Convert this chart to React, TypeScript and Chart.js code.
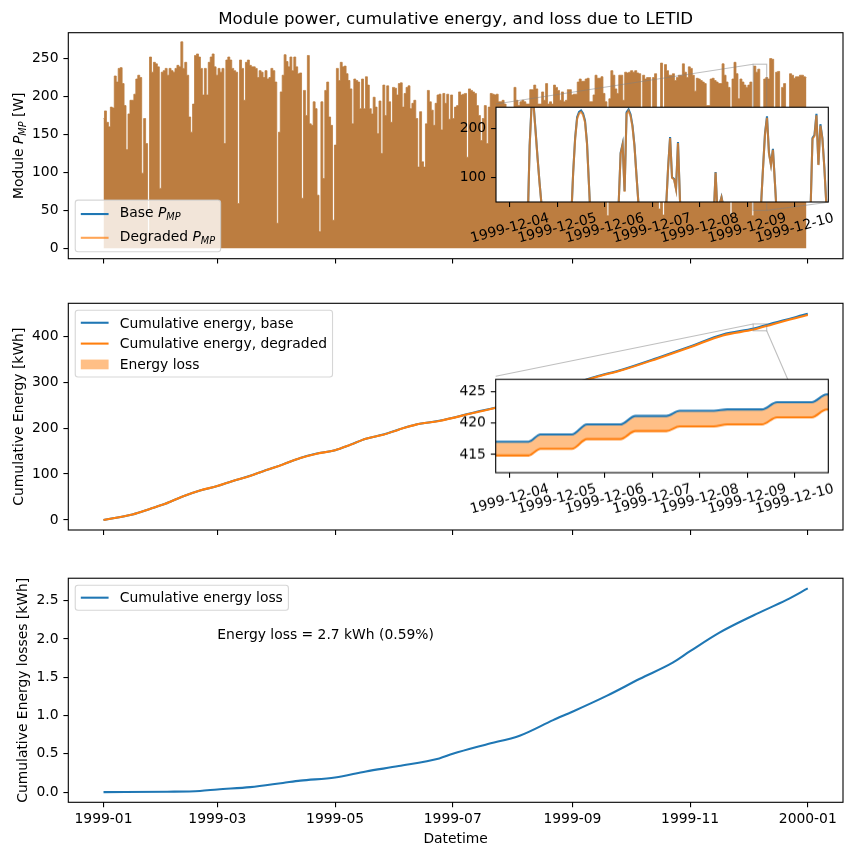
import React, { useEffect, useRef } from 'react';
import { Chart, registerables } from 'chart.js';

Chart.register(...registerables);

// ---------------- data ----------------
// x values are days since 1999-01-01 00:00
const monthTickDays = [0, 59, 120, 181, 243, 304, 365];
const monthTickLabels = ['1999-01', '1999-03', '1999-05', '1999-07', '1999-09', '1999-11', '2000-01'];
const decTickDays = [337, 338, 339, 340, 341, 342, 343];
const decTickLabels = ['1999-12-04', '1999-12-05', '1999-12-06', '1999-12-07', '1999-12-08', '1999-12-09', '1999-12-10'];
const powerTicks = [0, 50, 100, 150, 200, 250];
const energyTicks = [0, 100, 200, 300, 400];
const lossTicks = [0, 0.5, 1.0, 1.5, 2.0, 2.5];
const powerInsetTicks = [100, 200];
const energyInsetTicks = [415, 420, 425];

// daily peak module power [W], read block by block; each block covers the day span next to it
const peakPowerJanMar = [
  171, 181, 166, 160, 186, 185, 227, 219, 237, 238,
  217, 188, 130, 177, 195, 195, 203, 223, 228, 225,
  99, 171, 138, 20, 252, 232, 245, 243, 239, 79,
  232, 234, 237, 228, 237, 234, 232, 237, 241, 239,
  272, 237, 245, 228, 173, 153, 190, 254, 256, 252,
  237, 202, 237, 202, 245, 252, 256, 239, 228, 237,
  232, 237, 138, 248, 252, 248, 237, 234, 232, 59,
  248, 237, 195, 245, 248, 241, 239, 239, 237, 225,
  234, 232, 225, 234, 223, 225, 237, 234, 219, 33,
];
const spanJanMar = [0, 90.3];
const peakPowerAprJun = [
  153, 206, 228, 255, 246, 239, 252, 234, 252, 239,
  230, 231, 66, 208, 175, 254, 164, 162, 193, 184,
  70, 22, 193, 92, 208, 219, 173, 162, 37, 136,
  237, 221, 245, 239, 240, 230, 221, 210, 164, 223,
  221, 219, 184, 223, 184, 226, 215, 184, 177, 199,
  186, 151, 194, 125, 215, 175, 214, 193, 166, 212,
  211, 202, 217, 218, 186, 204, 212, 214, 184, 191,
  195, 171, 107, 180, 114, 107, 164, 208, 193, 182,
  162, 191, 202, 203, 156, 204, 191, 203, 170, 202,
  171, 186,
];
const spanAprJun = [91.1, 182.4];
const peakPowerJulSep = [
  186, 188, 206, 202, 203, 204, 120, 210, 208, 206,
  204, 188, 175, 142, 171, 188, 138, 186, 204, 203,
  202, 203, 193, 193, 195, 190, 185, 185, 185, 185,
  212, 195, 188, 193, 195, 193, 190, 190, 209, 209,
  215, 210, 190, 190, 206, 195, 217, 190, 193, 190,
  215, 212, 208, 195, 206, 193, 195, 209, 209, 202,
  203, 203, 219, 223, 220, 220, 223, 224, 193, 193,
  202, 228, 224, 224, 226, 204, 193, 43, 197, 234,
  228, 210, 204, 228, 228, 195, 232, 231, 232, 234,
];
const spanJulSep = [182.5, 273.7];
const peakPowerOctDec = [
  232, 234, 231, 230, 185, 228, 223, 225, 225, 185,
  225, 230, 185, 52, 244, 44, 242, 234, 228, 228,
  230, 221, 225, 228, 228, 243, 232, 225, 239, 237,
  228, 207, 224, 223, 221, 219, 217, 188, 188, 223,
  224, 221, 219, 217, 217, 243, 228, 219, 212, 44,
  223, 245, 230, 197, 223, 219, 215, 212, 215, 219,
  43, 240, 232, 236, 182, 111, 223, 225, 223, 250,
  249, 185, 232, 233, 185, 212, 217, 185, 185, 230,
  228, 224, 226, 226, 228, 228, 226, 225,
];
const spanOctDec = [274.8, 364.3];

// cumulative energy [kWh]
const energyDays = [0, 15, 24, 32, 41, 50, 59, 67, 76, 84, 93, 102, 110, 120, 128, 136, 145, 153, 162, 174, 191, 209, 255, 269, 287, 304, 321, 337, 347, 365];
const energyBase = [0, 12, 24, 35, 51, 64, 74, 85, 96, 108, 121, 135, 144, 152, 164, 177, 186, 197, 208, 216, 233, 251, 312, 328, 353, 378, 404, 417, 429, 449];
const energyDegraded = [0, 12.0, 24.0, 35.0, 51.0, 64.0, 74.0, 84.9, 95.9, 107.9, 120.9, 134.8, 143.8, 151.8, 163.8, 176.7, 185.7, 196.7, 207.6, 215.6, 232.4, 250.3, 310.8, 326.6, 351.4, 376.1, 401.9, 414.7, 426.6, 446.3];

// cumulative energy loss [kWh]
const lossDays = [0, 33, 50, 59, 76, 93, 102, 120, 136, 153, 174, 181, 198, 216, 233, 243, 261, 278, 295, 304, 319, 337, 354, 365];
const lossValues = [0, 0.005, 0.015, 0.035, 0.065, 0.12, 0.15, 0.19, 0.27, 0.34, 0.44, 0.5, 0.62, 0.74, 0.94, 1.05, 1.26, 1.48, 1.69, 1.84, 2.08, 2.31, 2.51, 2.66];

// hourly module power, 1999-12-03 .. 1999-12-10
const decDays = [336, 337, 338, 339, 340, 341, 342, 343];
const decFirstHour = [16, 8, 6, 6, 6, 7, 6, 7];
const decBasePower = [
  [25, 0],
  [0, 5, 165, 250, 248, 195, 140, 90, 45, 0],
  [0, 15, 110, 180, 222, 233, 236, 230, 215, 170, 85, 0],
  [0, 45, 150, 168, 72, 232, 238, 228, 205, 165, 105, 48, 0],
  [0, 40, 120, 182, 100, 97, 77, 172, 55, 0],
  [15, 111, 25, 45, 60, 40, 30, 20, 8, 0],
  [0, 45, 120, 190, 224, 150, 126, 158, 90, 20, 0],
  [0, 30, 180, 186, 229, 126, 208, 180, 120, 45, 0],
];
const decDegradedPower = [
  [25, 0],
  [0, 5, 163, 247, 245, 193, 139, 89, 45, 0],
  [0, 15, 109, 178, 219, 230, 233, 227, 212, 168, 84, 0],
  [0, 45, 148, 166, 71, 229, 235, 225, 202, 163, 104, 47, 0],
  [0, 40, 119, 180, 99, 96, 76, 170, 54, 0],
  [15, 110, 25, 44, 59, 40, 30, 20, 8, 0],
  [0, 44, 119, 188, 221, 148, 125, 156, 89, 20, 0],
  [0, 30, 178, 184, 226, 125, 205, 178, 119, 44, 0],
];

// cumulative energy in the same week [kWh]
const decEnergyTimes = [336.7, 337.4, 337.65, 338.31, 338.63, 339.33, 339.65, 340.3, 340.58, 341.3, 341.58, 342.31, 342.63, 343.36, 343.67, 343.72];
const decEnergyBase = [417.05, 417.05, 418.2, 418.2, 419.8, 419.8, 421.15, 421.15, 421.97, 421.97, 422.2, 422.2, 423.35, 423.35, 424.6, 424.6];
const decEnergyDegraded = [414.85, 414.85, 415.92, 415.92, 417.46, 417.46, 418.74, 418.74, 419.5, 419.5, 419.8, 419.8, 420.94, 420.94, 422.17, 422.17];

const zoomWindow = [336.708, 343.708];

// ---------------- layout & style ----------------
const W = 853;
const AX_LEFT = 68.3;
const AX_RIGHT = 843;
const X_MIN = -18.25;
const X_MAX = 383.25;
const P_TOP = { y: 0, h: 290, top: 32.7, bottom: 258.7 };
const P_MID = { y: 290, h: 275, top: 303.3, bottom: 530 };
const P_BOT = { y: 565, h: 290, top: 575, bottom: 802.3 };
const IN_POW = { left: 496, right: 828.3, top: 104, bottom: 202.3 };
const IN_EN = { left: 495.7, right: 828.3, top: 376.3, bottom: 473 };
const IN_CANVAS_LEFT = 430;

const FF = '"DejaVu Sans", "Liberation Sans", sans-serif';
const FS = 13.89;
const TICK_LEN = 4.9;
const BLUE = '#1f77b4';
const ORANGE = '#ff7f0e';
const ORANGE70 = 'rgba(255,127,14,0.7)';
const ORANGE50 = 'rgba(255,127,14,0.5)';
const BROWN = 'rgb(188,125,64)';
const LW = 2.08;

type Run = { t: string; it?: boolean; sub?: boolean };

function fnt(size: number, italic = false) {
  return `${italic ? 'italic ' : ''}${size}px ${FF}`;
}
function runsWidth(ctx: any, runs: Run[], size: number) {
  let w = 0;
  for (const r of runs) {
    ctx.font = fnt(r.sub ? size * 0.7 : size, !!r.it);
    w += ctx.measureText(r.t).width;
  }
  return w;
}
function drawRuns(ctx: any, runs: Run[], x: number, y: number, size: number, align: string) {
  const total = runsWidth(ctx, runs, size);
  let cx = align === 'center' ? x - total / 2 : x;
  ctx.textAlign = 'left';
  ctx.textBaseline = 'alphabetic';
  ctx.fillStyle = '#000';
  for (const r of runs) {
    const s = r.sub ? size * 0.7 : size;
    ctx.font = fnt(s, !!r.it);
    ctx.fillText(r.t, cx, y + (r.sub ? size * 0.22 : 0));
    cx += ctx.measureText(r.t).width;
  }
}
function roundRectPath(ctx: any, x: number, y: number, w: number, h: number, r: number) {
  ctx.beginPath();
  ctx.moveTo(x + r, y);
  ctx.lineTo(x + w - r, y);
  ctx.arcTo(x + w, y, x + w, y + r, r);
  ctx.lineTo(x + w, y + h - r);
  ctx.arcTo(x + w, y + h, x + w - r, y + h, r);
  ctx.lineTo(x + r, y + h);
  ctx.arcTo(x, y + h, x, y + h - r, r);
  ctx.lineTo(x, y + r);
  ctx.arcTo(x, y, x + r, y, r);
  ctx.closePath();
}
type LegendItem = { runs: Run[]; kind: 'line' | 'patch'; color: string; lift?: number };
function drawLegend(ctx: any, x: number, y: number, anchor: 'top' | 'bottom', items: LegendItem[], rowH: number) {
  const pad = 0.4 * FS, gap = 0.5 * FS, hl = 2 * FS, htp = 0.8 * FS;
  const tw = Math.max(...items.map((it) => runsWidth(ctx, it.runs, FS)));
  const w = pad + hl + htp + tw + pad;
  const h = 2 * pad + items.length * rowH + (items.length - 1) * gap;
  const top = anchor === 'top' ? y : y - h;
  roundRectPath(ctx, x, top, w, h, 0.2 * FS);
  ctx.fillStyle = 'rgba(255,255,255,0.8)';
  ctx.fill();
  ctx.strokeStyle = 'rgba(204,204,204,0.8)';
  ctx.lineWidth = 1.1;
  ctx.stroke();
  items.forEach((it, i) => {
    const cy = top + pad + i * (rowH + gap) + rowH / 2;
    const hx = x + pad;
    if (it.kind === 'line') {
      ctx.strokeStyle = it.color;
      ctx.lineWidth = LW;
      ctx.beginPath();
      ctx.moveTo(hx, cy);
      ctx.lineTo(hx + hl, cy);
      ctx.stroke();
    } else {
      ctx.fillStyle = it.color;
      ctx.fillRect(hx, cy - 0.35 * FS, hl, 0.7 * FS);
    }
    drawRuns(ctx, it.runs, hx + hl + htp, cy + 0.346 * FS - (it.lift || 0), FS, 'left');
  });
}
function frame(ctx: any, a: any) {
  ctx.strokeStyle = '#000';
  ctx.lineWidth = 1.1;
  ctx.strokeRect(a.left, a.top, a.right - a.left, a.bottom - a.top);
}
function gridOpts() {
  return { display: true, drawOnChartArea: false, drawTicks: true, tickLength: TICK_LEN, lineWidth: 1.1, tickWidth: 1.1, tickColor: '#000', color: '#000' };
}
function tickFont() {
  return { family: FF, size: FS };
}
function pts(xs: number[], ys: number[]) {
  return xs.map((x, i) => ({ x, y: ys[i] }));
}
function spread(values: number[], span: number[]) {
  const step = (span[1] - span[0]) / (values.length - 1);
  return values.map((y, i) => ({ x: span[0] + i * step, y }));
}
function hourly(days: number[], first: number[], table: number[][]) {
  const out: any[] = [];
  table.forEach((vals, d) => vals.forEach((y, i) => out.push({ x: days[d] + (first[d] + i) / 24, y })));
  return out;
}
function drawConnectors(chart: any, panelY: number, inset: any, yLo: number, yHi: number) {
  const ctx = chart.ctx;
  const xs = chart.scales.x, ys = chart.scales.y;
  const x0 = xs.getPixelForValue(zoomWindow[0]);
  const x1 = xs.getPixelForValue(zoomWindow[1]);
  const y0 = ys.getPixelForValue(yHi);
  const y1 = ys.getPixelForValue(yLo);
  ctx.save();
  ctx.strokeStyle = 'rgba(128,128,128,0.5)';
  ctx.lineWidth = 1.1;
  ctx.strokeRect(x0, y0, x1 - x0, y1 - y0);
  ctx.beginPath();
  ctx.moveTo(x0, y0);
  ctx.lineTo(inset.left, inset.top - panelY);
  ctx.moveTo(x1, y1);
  ctx.lineTo(inset.right, inset.bottom - panelY);
  ctx.stroke();
  ctx.restore();
}

function buildMain(canvas: HTMLCanvasElement, panel: any, o: any) {
  return new Chart(canvas, {
    type: 'line',
    data: { datasets: o.datasets },
    options: {
      responsive: false,
      maintainAspectRatio: false,
      animation: false,
      events: [],
      layout: { autoPadding: false, padding: { left: 0, right: W - AX_RIGHT, top: panel.top - panel.y, bottom: 0 } },
      plugins: { legend: { display: false }, tooltip: { enabled: false }, filler: { drawTime: 'beforeDatasetsDraw' } } as any,
      scales: {
        x: {
          type: 'linear',
          min: X_MIN,
          max: X_MAX,
          afterBuildTicks: (s: any) => { s.ticks = monthTickDays.map((v) => ({ value: v })); },
          afterFit: (s: any) => { s.height = panel.y + panel.h - panel.bottom; },
          grid: gridOpts(),
          border: { display: false },
          ticks: {
            display: o.showX,
            autoSkip: false,
            maxRotation: 0,
            minRotation: 0,
            padding: 3.5,
            color: '#000',
            font: tickFont(),
            callback: (v: any) => monthTickLabels[monthTickDays.indexOf(Number(v))] ?? '',
          },
        },
        y: {
          type: 'linear',
          min: o.yMin,
          max: o.yMax,
          afterBuildTicks: (s: any) => { s.ticks = o.yTicks.map((v: number) => ({ value: v })); },
          afterFit: (s: any) => { s.width = AX_LEFT; },
          grid: gridOpts(),
          border: { display: false },
          ticks: { padding: 4.9, color: '#000', font: tickFont(), callback: (v: any) => o.yFmt(Number(v)) },
        },
      } as any,
    },
    plugins: [
      {
        id: 'overlay',
        afterDatasetsDraw(chart: any) { if (o.afterDatasets) o.afterDatasets(chart); },
        afterDraw(chart: any) {
          const ctx = chart.ctx;
          ctx.save();
          frame(ctx, chart.chartArea);
          o.afterAll(chart, ctx);
          ctx.restore();
        },
      },
    ],
  } as any);
}

function buildInset(canvas: HTMLCanvasElement, inset: any, o: any) {
  const cTop = inset.top - 10;
  const cH = inset.bottom - inset.top + 60;
  return new Chart(canvas, {
    type: 'line',
    data: { datasets: o.datasets },
    options: {
      responsive: false,
      maintainAspectRatio: false,
      animation: false,
      events: [],
      layout: { autoPadding: false, padding: { left: 0, right: W - inset.right, top: inset.top - cTop, bottom: 0 } },
      plugins: { legend: { display: false }, tooltip: { enabled: false }, filler: { drawTime: 'beforeDatasetsDraw' } } as any,
      scales: {
        x: {
          type: 'linear',
          min: zoomWindow[0],
          max: zoomWindow[1],
          afterBuildTicks: (s: any) => { s.ticks = decTickDays.map((v) => ({ value: v })); },
          afterFit: (s: any) => { s.height = cTop + cH - inset.bottom; },
          grid: gridOpts(),
          border: { display: false },
          ticks: { display: false },
        },
        y: {
          type: 'linear',
          min: o.yMin,
          max: o.yMax,
          afterBuildTicks: (s: any) => { s.ticks = o.yTicks.map((v: number) => ({ value: v })); },
          afterFit: (s: any) => { s.width = inset.left - IN_CANVAS_LEFT; },
          grid: gridOpts(),
          border: { display: false },
          ticks: { padding: 4.9, color: '#000', font: tickFont(), callback: (v: any) => String(v) },
        },
      } as any,
    },
    plugins: [
      {
        id: 'insetOverlay',
        beforeDraw(chart: any) {
          const a = chart.chartArea;
          const ctx = chart.ctx;
          ctx.save();
          ctx.fillStyle = '#fff';
          ctx.fillRect(a.left, a.top, a.right - a.left, a.bottom - a.top);
          ctx.restore();
        },
        afterDraw(chart: any) {
          const ctx = chart.ctx;
          const a = chart.chartArea;
          ctx.save();
          frame(ctx, a);
          ctx.font = fnt(FS);
          ctx.fillStyle = '#000';
          ctx.textAlign = 'center';
          ctx.textBaseline = 'middle';
          decTickDays.forEach((d, i) => {
            const px = chart.scales.x.getPixelForValue(d);
            ctx.save();
            ctx.translate(px, a.bottom + 26.5);
            ctx.rotate((-15 * Math.PI) / 180);
            ctx.fillText(decTickLabels[i], 0, 0);
            ctx.restore();
          });
          ctx.restore();
        },
      },
    ],
  } as any);
}

const pmpRuns = (label: string): Run[] => [{ t: label }, { t: 'P', it: true }, { t: 'MP', it: true, sub: true }];

export default function App() {
  const cTop = useRef<HTMLCanvasElement>(null);
  const cMid = useRef<HTMLCanvasElement>(null);
  const cBot = useRef<HTMLCanvasElement>(null);
  const cInPow = useRef<HTMLCanvasElement>(null);
  const cInEn = useRef<HTMLCanvasElement>(null);

  useEffect(() => {
    const charts: any[] = [];
    const powerPts = [
      ...spread(peakPowerJanMar, spanJanMar),
      ...spread(peakPowerAprJun, spanAprJun),
      ...spread(peakPowerJulSep, spanJulSep),
      ...spread(peakPowerOctDec, spanOctDec),
    ];

    charts.push(
      buildMain(cTop.current!, P_TOP, {
        showX: false,
        yMin: -13.6,
        yMax: 284,
        yTicks: powerTicks,
        yFmt: (v: number) => String(v),
        datasets: [
          { data: powerPts, stepped: 'middle', fill: 'origin', backgroundColor: BROWN, borderColor: BROWN, borderWidth: 0.8, pointRadius: 0 },
        ],
        afterDatasets: (chart: any) => drawConnectors(chart, P_TOP.y, IN_POW, 50, 242.5),
        afterAll: (chart: any, ctx: any) => {
          const a = chart.chartArea;
          ctx.font = fnt(16.67);
          ctx.fillStyle = '#000';
          ctx.textAlign = 'center';
          ctx.textBaseline = 'alphabetic';
          ctx.fillText('Module power, cumulative energy, and loss due to LETID', (a.left + a.right) / 2, a.top - 8.3);
          ctx.save();
          ctx.translate(23.3, (a.top + a.bottom) / 2);
          ctx.rotate(-Math.PI / 2);
          drawRuns(ctx, [{ t: 'Module ' }, { t: 'P', it: true }, { t: 'MP', it: true, sub: true }, { t: ' [W]' }], 0, 0, FS, 'center');
          ctx.restore();
          drawLegend(ctx, a.left + 0.5 * FS, a.bottom - 0.5 * FS, 'bottom', [
            { runs: pmpRuns('Base '), kind: 'line', color: BLUE, lift: 1.5 },
            { runs: pmpRuns('Degraded '), kind: 'line', color: ORANGE70, lift: 1.5 },
          ], 16.8);
        },
      })
    );

    charts.push(
      buildMain(cMid.current!, P_MID, {
        showX: false,
        yMin: -22,
        yMax: 472,
        yTicks: energyTicks,
        yFmt: (v: number) => String(v),
        datasets: [
          { data: pts(energyDays, energyDegraded), borderColor: ORANGE, borderWidth: LW, pointRadius: 0, cubicInterpolationMode: 'monotone', fill: '+1', backgroundColor: ORANGE50 },
          { data: pts(energyDays, energyBase), borderColor: BLUE, borderWidth: LW, pointRadius: 0, cubicInterpolationMode: 'monotone', fill: false },
        ],
        afterDatasets: (chart: any) => drawConnectors(chart, P_MID.y, IN_EN, 412.1, 427),
        afterAll: (chart: any, ctx: any) => {
          const a = chart.chartArea;
          ctx.save();
          ctx.translate(23.3, (a.top + a.bottom) / 2);
          ctx.rotate(-Math.PI / 2);
          drawRuns(ctx, [{ t: 'Cumulative Energy [kWh]' }], 0, 0, FS, 'center');
          ctx.restore();
          drawLegend(ctx, a.left + 0.5 * FS, a.top + 0.5 * FS, 'top', [
            { runs: [{ t: 'Cumulative energy, base' }], kind: 'line', color: BLUE },
            { runs: [{ t: 'Cumulative energy, degraded' }], kind: 'line', color: ORANGE },
            { runs: [{ t: 'Energy loss' }], kind: 'patch', color: ORANGE50 },
          ], 13.9);
        },
      })
    );

    charts.push(
      buildMain(cBot.current!, P_BOT, {
        showX: true,
        yMin: -0.133,
        yMax: 2.793,
        yTicks: lossTicks,
        yFmt: (v: number) => v.toFixed(1),
        datasets: [
          { data: pts(lossDays, lossValues), borderColor: BLUE, borderWidth: LW, pointRadius: 0, cubicInterpolationMode: 'monotone', fill: false },
        ],
        afterAll: (chart: any, ctx: any) => {
          const a = chart.chartArea;
          ctx.save();
          ctx.translate(27.4, (a.top + a.bottom) / 2);
          ctx.rotate(-Math.PI / 2);
          drawRuns(ctx, [{ t: 'Cumulative Energy losses [kWh]' }], 0, 0, FS, 'center');
          ctx.restore();
          drawRuns(ctx, [{ t: 'Datetime' }], (a.left + a.right) / 2, 843.3 - P_BOT.y, FS, 'center');
          drawRuns(ctx, [{ t: 'Energy loss = 2.7 kWh (0.59%)' }], chart.scales.x.getPixelForValue(59), chart.scales.y.getPixelForValue(2.0), FS, 'left');
          drawLegend(ctx, a.left + 0.5 * FS, a.top + 0.5 * FS, 'top', [
            { runs: [{ t: 'Cumulative energy loss' }], kind: 'line', color: BLUE },
          ], 13.9);
        },
      })
    );

    charts.push(
      buildInset(cInPow.current!, IN_POW, {
        yMin: 50,
        yMax: 242.5,
        yTicks: powerInsetTicks,
        datasets: [
          { data: hourly(decDays, decFirstHour, decDegradedPower), borderColor: ORANGE70, borderWidth: LW, pointRadius: 0, fill: false },
          { data: hourly(decDays, decFirstHour, decBasePower), borderColor: BLUE, borderWidth: LW, pointRadius: 0, fill: false },
        ],
      })
    );

    charts.push(
      buildInset(cInEn.current!, IN_EN, {
        yMin: 412.1,
        yMax: 427,
        yTicks: energyInsetTicks,
        datasets: [
          { data: pts(decEnergyTimes, decEnergyDegraded), borderColor: ORANGE, borderWidth: LW, pointRadius: 0, cubicInterpolationMode: 'monotone', fill: '+1', backgroundColor: ORANGE50 },
          { data: pts(decEnergyTimes, decEnergyBase), borderColor: BLUE, borderWidth: LW, pointRadius: 0, cubicInterpolationMode: 'monotone', fill: false },
        ],
      })
    );

    return () => charts.forEach((c) => c.destroy());
  }, []);

  const abs = (left: number, top: number, w: number, h: number): any => ({ position: 'absolute', left, top, width: w, height: h });
  const inPowTop = IN_POW.top - 10, inPowH = IN_POW.bottom - IN_POW.top + 60;
  const inEnTop = IN_EN.top - 10, inEnH = IN_EN.bottom - IN_EN.top + 60;
  const inW = W - IN_CANVAS_LEFT;

  return (
    <div style={{ position: 'absolute', left: 0, top: 0, width: W, height: 855, background: '#fff', overflow: 'hidden' }}>
      <canvas ref={cTop} width={W} height={P_TOP.h} style={abs(0, P_TOP.y, W, P_TOP.h)} />
      <canvas ref={cMid} width={W} height={P_MID.h} style={abs(0, P_MID.y, W, P_MID.h)} />
      <canvas ref={cBot} width={W} height={P_BOT.h} style={abs(0, P_BOT.y, W, P_BOT.h)} />
      <canvas ref={cInPow} width={inW} height={inPowH} style={abs(IN_CANVAS_LEFT, inPowTop, inW, inPowH)} />
      <canvas ref={cInEn} width={inW} height={inEnH} style={abs(IN_CANVAS_LEFT, inEnTop, inW, inEnH)} />
    </div>
  );
}
